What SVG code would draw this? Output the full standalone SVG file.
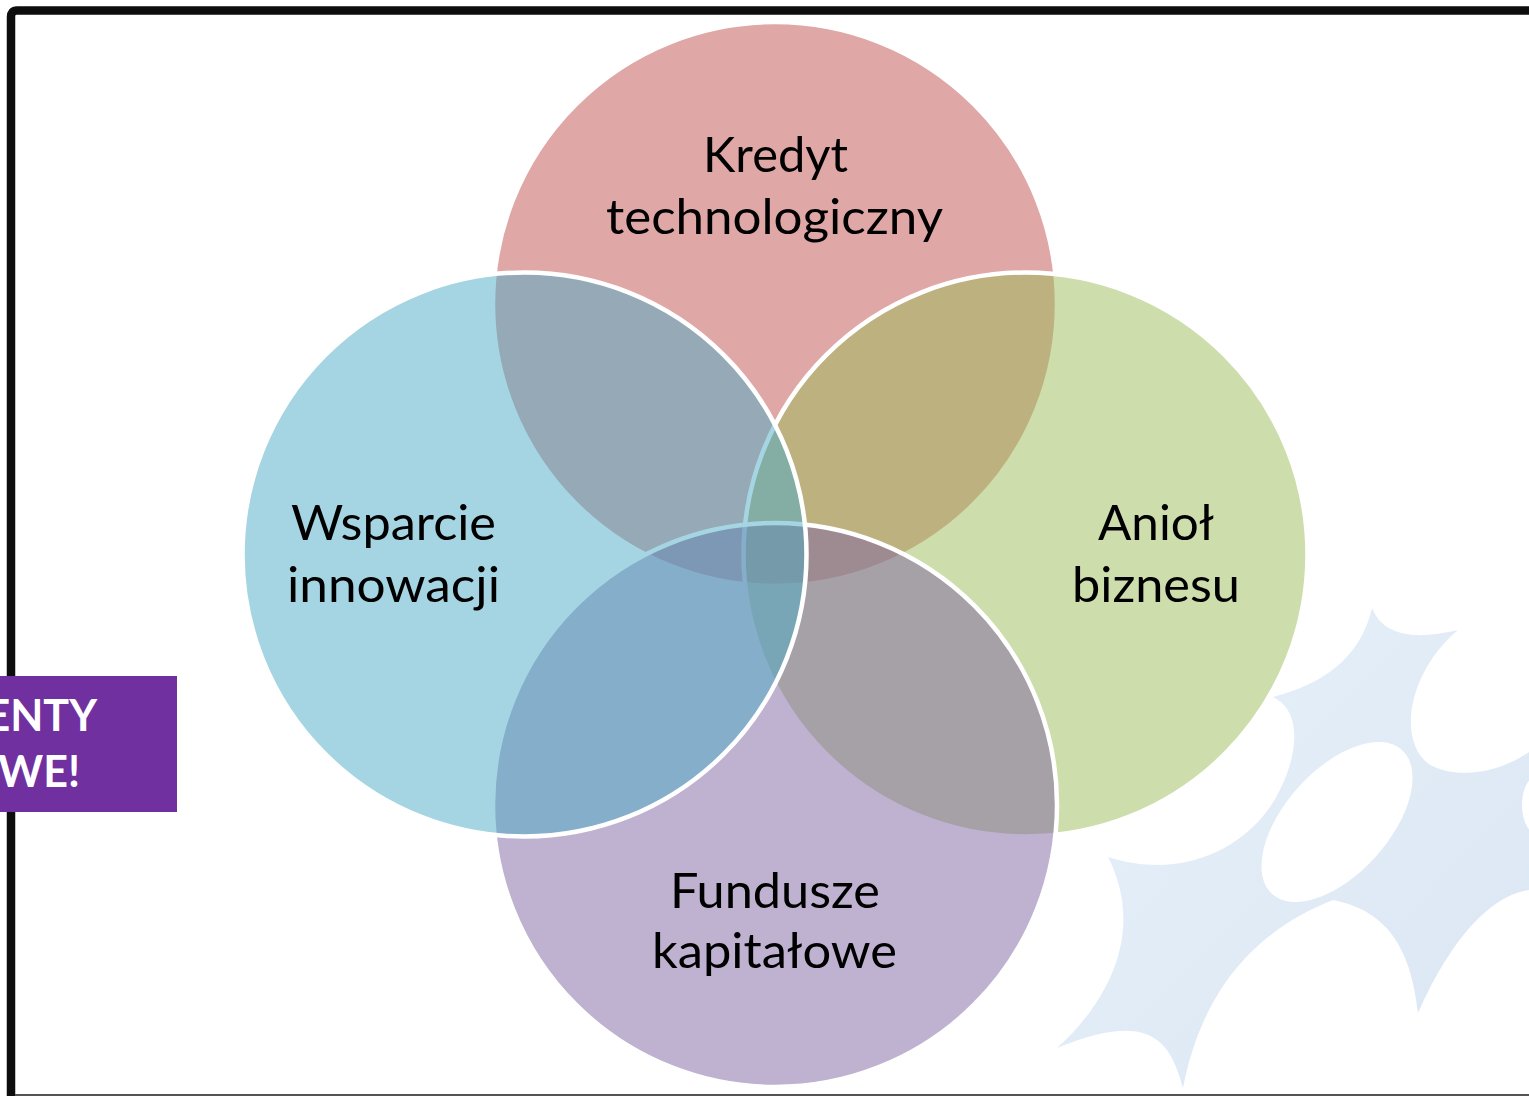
<svg xmlns="http://www.w3.org/2000/svg" width="1529" height="1096" viewBox="0 0 1529 1096">
  <style>
    .venn { stroke: #FFFFFF; stroke-width: 4.5; fill-opacity: 0.5; }
    .lbl { font-family: "Lato", "Liberation Sans", sans-serif; font-size: 49px; fill: #000000; text-anchor: middle; }
    .tag { font-family: "Lato", "Liberation Sans", sans-serif; font-weight: bold; font-size: 43px; fill: #FFFFFF; text-anchor: end; }
  </style>
  <defs>
    <linearGradient id="starGrad" x1="0" y1="0" x2="1" y2="1">
      <stop offset="0" stop-color="#E8F1FA"/>
      <stop offset="1" stop-color="#DAE6F3"/>
    </linearGradient>
  </defs>

  <rect x="0" y="0" width="1529" height="1096" fill="#FFFFFF"/>

  <!-- background star decoration -->
  <g id="background-star">
    <path d="M 1372 608 Q 1387 647 1458 630 C 1410 670 1395 740 1430 765 C 1460 780 1500 772 1529 752 L 1529 890 C 1495 895 1455 930 1418 1013 C 1412 960 1395 912 1333 900 C 1270 925 1205 975 1183 1088 C 1170 1040 1150 1010 1057 1048 C 1110 1000 1145 930 1108 857 C 1180 880 1240 850 1270 807 C 1292 775 1310 715 1273 697 C 1320 685 1360 660 1372 608 Z" fill="url(#starGrad)"/>
    <ellipse cx="1337" cy="822" rx="97" ry="52" transform="rotate(-48 1337 822)" fill="#FFFFFF"/>
    <ellipse cx="1536" cy="805" rx="14" ry="28" fill="#FFFFFF"/>
  </g>

  <!-- frame -->
  <g id="frame" fill="none" stroke="#0D0D0D">
    <path d="M 11 1096 V 17 Q 11 10.5 17 10.5 H 1529" stroke-width="8.5"/>
    <line x1="15" y1="1095" x2="1529" y2="1095" stroke="#555555" stroke-width="2"/>
  </g>

  <!-- purple tag -->
  <g id="tag">
    <rect x="0" y="676" width="177" height="136" fill="#7030A0"/>
    <text class="tag" x="97" y="731">ENTY</text>
    <text class="tag" x="80" y="787">WE!</text>
  </g>

  <g id="connectors"></g>

  <g id="node-kredyt">
    <circle class="venn" cx="775" cy="304" r="282" fill="#C0504D"/>
    <text class="lbl" x="775.5" y="172" textLength="145" lengthAdjust="spacingAndGlyphs">Kredyt</text>
    <text class="lbl" x="774.5" y="234" textLength="337" lengthAdjust="spacingAndGlyphs">technologiczny</text>
  </g>

  <g id="node-aniol">
    <circle class="venn" cx="1025.5" cy="554.5" r="282" fill="#9BBB59"/>
    <text class="lbl" x="1156" y="540" textLength="116" lengthAdjust="spacingAndGlyphs">Anioł</text>
    <text class="lbl" x="1156" y="602" textLength="168" lengthAdjust="spacingAndGlyphs">biznesu</text>
  </g>

  <g id="node-fundusze">
    <circle class="venn" cx="775" cy="805" r="282" fill="#8064A2"/>
    <text class="lbl" x="775" y="908" textLength="210" lengthAdjust="spacingAndGlyphs">Fundusze</text>
    <text class="lbl" x="774.5" y="968" textLength="245" lengthAdjust="spacingAndGlyphs">kapitałowe</text>
  </g>

  <g id="node-wsparcie">
    <circle class="venn" cx="524.5" cy="554.5" r="282" fill="#4BACC6"/>
    <text class="lbl" x="393.5" y="540" textLength="205" lengthAdjust="spacingAndGlyphs">Wsparcie</text>
    <text class="lbl" x="393.5" y="602" textLength="213" lengthAdjust="spacingAndGlyphs">innowacji</text>
  </g>
</svg>
